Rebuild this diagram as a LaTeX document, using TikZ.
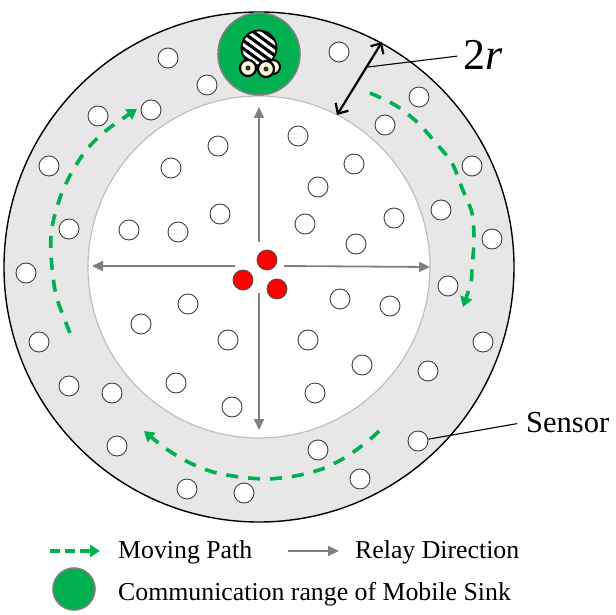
\documentclass[tikz,border=0pt]{standalone}
\usepackage{fontspec}
\setmainfont{Liberation Serif}
\usepackage{xcolor}
\usetikzlibrary{arrows.meta}
\definecolor{ringgray}{HTML}{E7E7E7}
\definecolor{pathgreen}{HTML}{00B050}
\tikzset{
sensor/.style={circle,draw=black!75,fill=white,line width=0.9pt,minimum size=20pt,inner sep=0pt},
hub/.style={circle,draw=black!70,fill=red,line width=0.8pt,minimum size=20pt,inner sep=0pt},
sinkrange/.style={circle,draw=gray,fill=pathgreen,line width=1.6pt,inner sep=0pt},
label/.style={anchor=base west,inner sep=0pt,font=\fontsize{25.8}{26}\selectfont},
relay/.style={draw=gray,line width=1.8pt,-{Triangle[length=11pt,width=10pt]}},
movepath/.style={draw=pathgreen,line width=3.6pt,dash pattern=on 12pt off 10pt,-{Triangle[length=10pt,width=12pt]}}
}
\begin{document}
\begin{tikzpicture}[x=1pt,y=-1pt]
\useasboundingbox (0,0) rectangle (616,615);
\node[circle,draw=black,fill=ringgray,line width=1.4pt,minimum size=510pt,inner sep=0pt] (outer) at (259,267) {};
\node[circle,draw=black!25,fill=white,line width=1.2pt,minimum size=342pt,inner sep=0pt] (inner) at (259,267) {};
% relay arrows
\coordinate (upstart) at (259,242);
\coordinate (uptip) at (259,107);
\coordinate (downstart) at (259,293);
\coordinate (downtip) at (259,430);
\coordinate (leftstart) at (235,266);
\coordinate (lefttip) at (92,266);
\coordinate (rightstart) at (284,266);
\coordinate (righttip) at (430,267);
\draw[relay] (upstart) -- (uptip);
\draw[relay] (downstart) -- (downtip);
\draw[relay] (leftstart) -- (lefttip);
\draw[relay] (rightstart) -- (righttip);
% moving path
\draw[movepath] plot[smooth] coordinates {(70,333) (56,295) (51,255) (52,227) (61,195) (73,170) (88,148) (108,129) (137,109)};
\draw[movepath] plot[smooth] coordinates {(370,93) (395,105) (417,122) (435,142) (452,163) (462,188) (472,213) (474,240) (472,268) (471,282) (463,307)};
\draw[movepath] plot[smooth] coordinates {(379,431) (368,441) (346,457) (322,469) (295,476) (267,479) (240,477) (213,472) (188,462) (165,448) (144,431)};
% sensors
\foreach \x/\y [count=\n] in {168/58,207/85,151/110,98/116,49/166,69/229,26/273,218/146,171/168,220/214,129/230,178/232,
339/52,419/97,385/125,472/166,441/210,492/239,298/136,354/164,318/187,305/224,394/218,356/244,
39/342,69/386,112/393,117/446,187/489,244/493,188/304,141/324,228/340,176/383,232/407,
448/286,483/342,428/371,418/441,318/450,360/479,340/299,390/306,308/340,362/365,315/393}
\node[sensor] (s\n) at (\x,\y) {};
\node[hub] (red1) at (267,260) {};
\node[hub] (red2) at (243,280) {};
\node[hub] (red3) at (277,289) {};
% mobile sink
\node[sinkrange,minimum size=82pt] (sink) at (259,54) {};
\filldraw[fill=white!85!yellow,draw=black,line width=2pt] (273,67) circle (7);
\begin{scope}
\clip (259,48) circle (17.5);
\fill[black] (259,48) circle (17.5);
\foreach \d in {-24,-16,-8,0,8,16,24}
\draw[white,line width=3pt] (237,48+\d-16) -- (281,48+\d+16);
\end{scope}
\draw[black,line width=1.8pt] (259,48) circle (17.5);
\foreach \x/\y in {248/68,266/69}{
\filldraw[fill=white!85!yellow,draw=black,line width=2.2pt] (\x,\y) circle (8);
\fill[black!80] (\x,\y) circle (2.6);
}
% 2r marker
\node[label,font=\fontsize{44}{44}\selectfont] (width) at (463,70) {2\textit{r}};
\coordinate (ringout) at (382,42);
\coordinate (ringin) at (337,115);
\coordinate (widthmid) at (368,67);
\draw[black,line width=2.2pt,{Straight Barb[length=8pt,width=15pt]}-{Straight Barb[length=8pt,width=15pt]}] (ringin) -- (ringout);
\draw[black,line width=1.1pt,shorten >=6pt] (widthmid) -- (width.west);
% sensor label
\node[label,font=\fontsize{30.5}{31}\selectfont] (sensorlabel) at (526,432) {Sensor};
\draw[black,line width=1.1pt,shorten >=9pt] (s39.10) -- (sensorlabel.west);
% legend
\coordinate (greenstart) at (50,551);
\coordinate (greentip) at (100,551);
\coordinate (graystart) at (288,551);
\coordinate (graytip) at (339,551);
\draw[draw=pathgreen,line width=3.6pt,dash pattern=on 10pt off 5pt,-{Triangle[length=10pt,width=12pt]}] (greenstart) -- (greentip);
\node[label] (lmove) at (118,558) {Moving Path};
\draw[relay] (graystart) -- (graytip);
\node[label] (lrelay) at (355,558) {Relay Direction};
\node[sinkrange,minimum size=42pt] (lsink) at (74,589) {};
\node[label] (lcomm) at (118,600) {Communication range of Mobile Sink};
\end{tikzpicture}
\end{document}
